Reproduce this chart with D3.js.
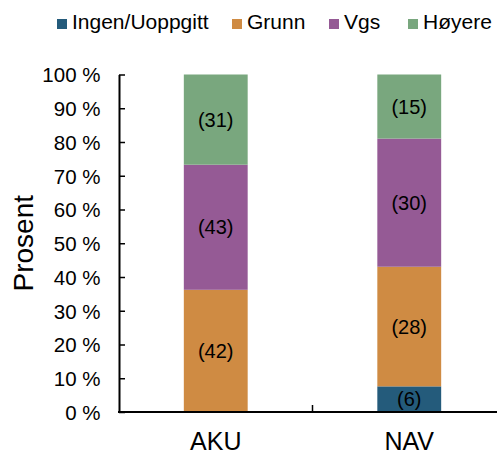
<!DOCTYPE html>
<html>
<head>
<meta charset="utf-8">
<script src="https://cdn.jsdelivr.net/npm/d3@7"></script>
<style>
body { margin: 0; background: white; }
text { font-family: "Liberation Sans", Arial, sans-serif; }
</style>
</head>
<body>
<svg></svg>
<script>
var w = 497;
var h = 455;

// data (antall, vist i parentes)
var categories = ["AKU", "NAV"];
var seriesNames = ["Ingen/Uoppgitt", "Grunn", "Vgs", "Høyere"];
var seriesColors = ["#245b7b", "#cf8b43", "#955a95", "#79a77e"];
var ingen = [0, 6];
var grunn = [42, 28];
var vgs = [43, 30];
var hoyere = [31, 15];
var yTicks = [0, 0.1, 0.2, 0.3, 0.4, 0.5, 0.6, 0.7, 0.8, 0.9, 1];

var canvas = d3.select("svg")
	.attr("width", w)
	.attr("height", h)
	.style("background-color", "white");

var rows = categories.map(function (c, i) {
	return { cat: c, "Ingen/Uoppgitt": ingen[i], "Grunn": grunn[i], "Vgs": vgs[i], "Høyere": hoyere[i] };
});

var stacked = d3.stack()
	.keys(seriesNames)
	.offset(d3.stackOffsetExpand)(rows);

var plotLeft = 119, plotRight = 506, plotTop = 74.5, plotBottom = 412;

var x = d3.scaleBand()
	.domain(categories)
	.range([plotLeft, plotRight])
	.paddingInner(0.67)
	.paddingOuter(0.335);

var y = d3.scaleLinear()
	.domain([0, 1])
	.range([plotBottom, plotTop]);

// bars
var layers = canvas.selectAll("g.layer")
	.data(stacked)
	.join("g")
	.attr("class", "layer")
	.attr("fill", function (d, i) { return seriesColors[i]; });

layers.selectAll("rect")
	.data(function (d) { return d; })
	.join("rect")
	.attr("x", function (d) { return x(d.data.cat); })
	.attr("width", x.bandwidth())
	.attr("y", function (d) { return y(d[1]); })
	.attr("height", function (d) { return y(d[0]) - y(d[1]); });

// labels
layers.each(function (layer) {
	d3.select(this).selectAll("text")
		.data(layer.filter(function (d) { return d.data[layer.key] > 0; }))
		.join("text")
		.attr("x", function (d) { return x(d.data.cat) + x.bandwidth() / 2; })
		.attr("y", function (d) { return (y(d[0]) + y(d[1])) / 2; })
		.attr("dy", "0.36em")
		.attr("text-anchor", "middle")
		.attr("fill", "black")
		.style("font-size", "20px")
		.text(function (d) { return "(" + d.data[layer.key] + ")"; });
});

// y axis
var yAxis = canvas.append("g")
	.attr("transform", "translate(" + plotLeft + ",0)")
	.call(d3.axisLeft(y)
		.tickValues(yTicks)
		.tickSizeInner(-6)
		.tickSizeOuter(0)
		.tickPadding(18.5)
		.tickFormat(function (d) { return Math.round(d * 100) + " %"; }));
yAxis.select(".domain").attr("stroke", "black").attr("stroke-width", 2);
yAxis.selectAll(".tick line").attr("stroke", "black").attr("stroke-width", 1.5);
yAxis.selectAll(".tick text")
	.attr("fill", "black")
	.attr("dy", "0.36em")
	.style("font-size", "20.5px")
	.style("font-family", "Liberation Sans, Arial, sans-serif");

// x axis
canvas.append("line")
	.attr("x1", plotLeft - 1)
	.attr("x2", w)
	.attr("y1", plotBottom)
	.attr("y2", plotBottom)
	.attr("stroke", "black")
	.attr("stroke-width", 2);

canvas.append("line")
	.attr("x1", x.range()[0] + x.step())
	.attr("x2", x.range()[0] + x.step())
	.attr("y1", plotBottom)
	.attr("y2", plotBottom - 7)
	.attr("stroke", "black")
	.attr("stroke-width", 1.5);

canvas.selectAll("text.cat")
	.data(categories)
	.join("text")
	.attr("class", "cat")
	.attr("x", function (d) { return x(d) + x.bandwidth() / 2; })
	.attr("y", 450)
	.attr("text-anchor", "middle")
	.style("font-size", "25px")
	.text(function (d) { return d; });

canvas.append("text")
	.attr("transform", "translate(33," + (plotTop + plotBottom) / 2 + ") rotate(-90)")
	.attr("text-anchor", "middle")
	.style("font-size", "28px")
	.text("Prosent");

// legend
var legendX = [57, 232, 329, 408];
var legend = canvas.selectAll("g.legend")
	.data(seriesNames)
	.join("g")
	.attr("class", "legend")
	.attr("transform", function (d, i) { return "translate(" + legendX[i] + ",19)"; });
legend.append("rect")
	.attr("width", 10)
	.attr("height", 10)
	.attr("fill", function (d, i) { return seriesColors[i]; });
legend.append("text")
	.attr("x", 15)
	.attr("y", 9.5)
	.style("font-size", "21px")
	.text(function (d) { return d; });
</script>
</body>
</html>
